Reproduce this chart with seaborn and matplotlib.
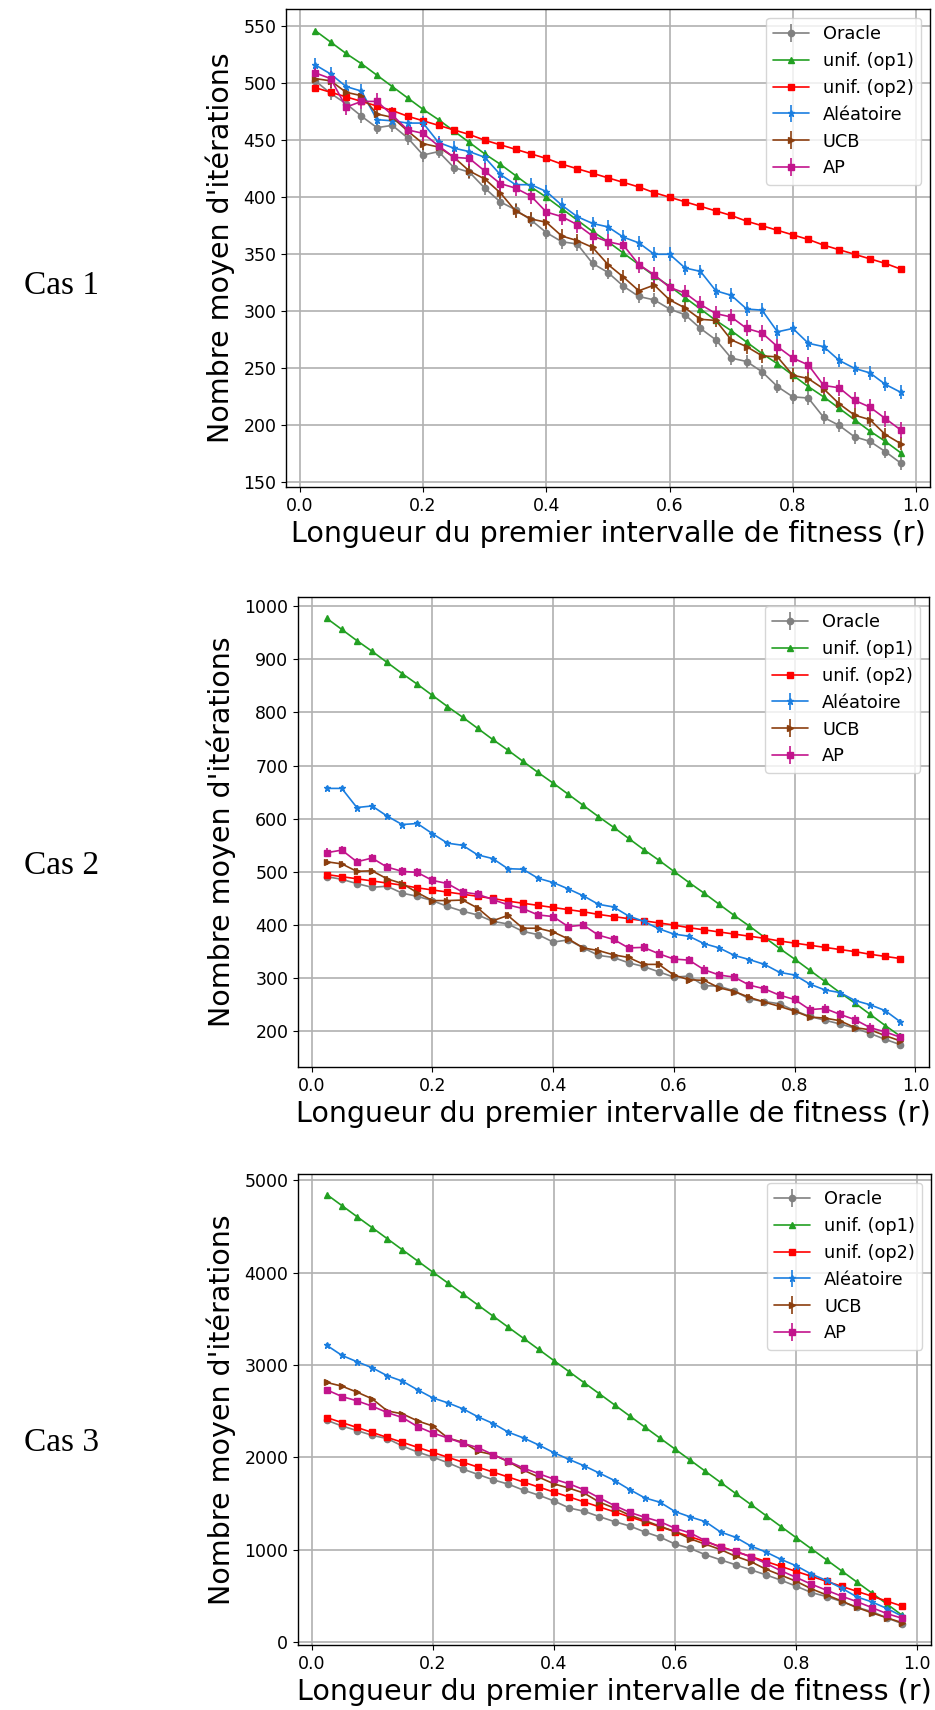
import seaborn as sns
import matplotlib.pyplot as plt
from matplotlib.ticker import MultipleLocator

# x axis: length of the first fitness interval
r = [0.025, 0.05, 0.075, 0.1, 0.125, 0.15, 0.175, 0.2, 0.225, 0.25,
     0.275, 0.3, 0.325, 0.35, 0.375, 0.4, 0.425, 0.45, 0.475, 0.5,
     0.525, 0.55, 0.575, 0.6, 0.625, 0.65, 0.675, 0.7, 0.725, 0.75,
     0.775, 0.8, 0.825, 0.85, 0.875, 0.9, 0.925, 0.95, 0.975]

labels = ["Oracle", "unif. (op1)", "unif. (op2)", "Aléatoire", "UCB", "AP"]
cases = ["Cas 1", "Cas 2", "Cas 3"]

# --- Cas 1 ---
cas1_oracle = [502, 491, 482, 471, 461, 463, 452, 437, 440, 426,
               422, 408, 396, 389, 380, 369, 361, 359, 342, 334,
               322, 313, 310, 302, 297, 285, 275, 259, 256, 247,
               234, 225, 224, 207, 200, 190, 186, 177, 167]
cas1_op1 = [546, 536, 526, 517, 507, 497, 487, 477, 468, 458,
            448, 438, 429, 419, 409, 400, 390, 380, 370, 361,
            351, 341, 331, 322, 312, 302, 292, 283, 273, 263,
            254, 244, 234, 225, 215, 205, 195, 186, 176]
cas1_op2 = [496, 492, 488, 484, 480, 476, 471, 467, 463, 459,
            455, 450, 446, 442, 438, 434, 429, 425, 421, 417,
            413, 409, 404, 400, 396, 392, 388, 384, 379, 375,
            371, 367, 363, 358, 354, 350, 346, 342, 337]
cas1_alea = [516, 508, 497, 493, 468, 467, 465, 465, 448, 443,
             440, 435, 420, 411, 411, 405, 393, 383, 377, 374,
             365, 360, 350, 350, 338, 335, 318, 314, 302, 301,
             282, 285, 272, 269, 257, 250, 246, 236, 229]
cas1_ucb = [504, 502, 492, 489, 473, 470, 458, 447, 444, 435,
            423, 416, 404, 388, 381, 378, 366, 362, 356, 341,
            330, 318, 323, 310, 303, 293, 292, 275, 269, 261,
            260, 244, 241, 232, 219, 209, 205, 192, 184]
cas1_ap = [509, 504, 479, 484, 484, 472, 459, 456, 445, 435,
           434, 423, 412, 408, 401, 387, 383, 376, 366, 361,
           358, 341, 332, 321, 316, 306, 298, 295, 285, 281,
           269, 259, 253, 235, 233, 222, 216, 206, 196]
cas1_err = [6, 0, 0, 6, 6, 7]

# --- Cas 2 ---
cas2_oracle = [491, 486, 478, 471, 473, 460, 454, 446, 435, 426,
               419, 407, 402, 388, 382, 368, 372, 357, 343, 339,
               329, 322, 312, 302, 304, 286, 285, 276, 261, 256,
               252, 239, 228, 221, 214, 206, 196, 185, 175]
cas2_op1 = [977, 956, 935, 915, 894, 873, 853, 832, 811, 791,
            770, 749, 729, 708, 687, 667, 646, 625, 604, 584,
            563, 542, 522, 501, 480, 460, 439, 418, 398, 377,
            356, 336, 315, 294, 273, 253, 232, 211, 191]
cas2_op2 = [495, 491, 487, 483, 479, 475, 470, 466, 462, 458,
            454, 450, 445, 441, 437, 433, 429, 425, 420, 416,
            412, 408, 404, 400, 395, 391, 387, 383, 379, 375,
            370, 366, 362, 358, 354, 350, 345, 341, 337]
cas2_alea = [657, 657, 621, 624, 605, 589, 591, 572, 554, 550,
             532, 525, 506, 505, 488, 480, 468, 455, 439, 434,
             417, 407, 393, 383, 379, 365, 357, 343, 335, 326,
             311, 306, 289, 278, 273, 258, 250, 239, 218]
cas2_ucb = [519, 515, 501, 502, 487, 478, 461, 446, 446, 447,
            432, 408, 418, 394, 394, 387, 374, 357, 352, 344,
            339, 326, 326, 306, 297, 296, 282, 275, 264, 255,
            247, 238, 227, 225, 220, 207, 203, 192, 182]
cas2_ap = [536, 541, 519, 526, 509, 501, 499, 484, 478, 462,
           458, 448, 438, 431, 419, 416, 397, 400, 381, 373,
           357, 358, 346, 336, 334, 316, 306, 302, 287, 280,
           268, 260, 241, 243, 232, 222, 207, 199, 189]
cas2_err = [4, 0, 0, 5, 6, 8]

# --- Cas 3 ---
cas3_oracle = [2401, 2339, 2289, 2238, 2202, 2122, 2057, 2003, 1941, 1872,
               1814, 1756, 1709, 1644, 1590, 1528, 1452, 1416, 1358, 1304,
               1257, 1192, 1137, 1061, 1014, 946, 891, 837, 783, 728,
               670, 605, 537, 493, 439, 377, 330, 261, 200]
cas3_op1 = [4844, 4724, 4604, 4485, 4365, 4245, 4125, 4005, 3886, 3766,
            3646, 3526, 3406, 3287, 3167, 3047, 2927, 2807, 2688, 2568,
            2448, 2328, 2208, 2089, 1969, 1849, 1729, 1609, 1490, 1370,
            1250, 1130, 1010, 891, 771, 651, 531, 411, 290]
cas3_op2 = [2430, 2376, 2323, 2269, 2215, 2162, 2108, 2054, 2000, 1947,
            1893, 1839, 1786, 1732, 1678, 1624, 1571, 1517, 1463, 1410,
            1356, 1302, 1249, 1195, 1141, 1087, 1034, 980, 926, 873,
            819, 765, 712, 658, 604, 550, 497, 443, 389]
cas3_alea = [3212, 3103, 3034, 2969, 2882, 2824, 2730, 2643, 2589, 2524,
             2437, 2365, 2271, 2209, 2133, 2050, 1977, 1908, 1829, 1749,
             1651, 1561, 1514, 1413, 1355, 1304, 1192, 1134, 1040, 975,
             895, 826, 736, 667, 584, 490, 435, 363, 280]
cas3_ucb = [2810, 2770, 2705, 2633, 2502, 2470, 2394, 2339, 2209, 2162,
            2064, 2028, 1952, 1861, 1785, 1713, 1666, 1612, 1515, 1450,
            1374, 1316, 1254, 1196, 1118, 1060, 1002, 929, 871, 789,
            724, 658, 577, 511, 445, 375, 317, 263, 210]
cas3_ap = [2730, 2658, 2611, 2553, 2484, 2430, 2332, 2263, 2209, 2151,
           2104, 2028, 1956, 1883, 1822, 1764, 1713, 1648, 1561, 1478,
           1405, 1351, 1304, 1232, 1181, 1098, 1025, 982, 924, 852,
           772, 700, 627, 562, 497, 439, 373, 308, 258]
cas3_err = [20, 0, 0, 25, 25, 25]

# Style
sns.set_style("ticks", {"axes.grid": True, "grid.color": "#b0b0b0",
                        "axes.edgecolor": "black", "xtick.color": "black",
                        "ytick.color": "black", "text.color": "black",
                        "axes.labelcolor": "black"})
plt.rcParams["font.family"] = ["DejaVu Sans"]
plt.rcParams["grid.linewidth"] = 1.2

colors = ["#808080", "#22a022", "#ff0000", "#1a7ee0", "#8b3e0e", "#c2148c"]
markers = ["o", "^", "s", "*", ">", "s"]
msizes = [4.5, 5, 5, 5, 4.5, 5]

panels = [
    ([cas1_oracle, cas1_op1, cas1_op2, cas1_alea, cas1_ucb, cas1_ap], cas1_err,
     (146, 565), 50, [286, 9, 930, 487], 286),
    ([cas2_oracle, cas2_op1, cas2_op2, cas2_alea, cas2_ucb, cas2_ap], cas2_err,
     (133, 1017), 100, [298, 597, 929, 1067], 866),
    ([cas3_oracle, cas3_op1, cas3_op2, cas3_alea, cas3_ucb, cas3_ap], cas3_err,
     (-31, 5066), 1000, [298, 1174, 931, 1645], 1443),
]

W, H = 935, 1710
fig = plt.figure(figsize=(W / 100, H / 100), dpi=100)

for (series, errs, ylim, ystep, box, ytext), case in zip(panels, cases):
    x0, y0, x1, y1 = box
    ax = fig.add_axes([x0 / W, 1 - y1 / H, (x1 - x0) / W, (y1 - y0) / H])
    handles = []
    for vals, err, lab, c, m, ms in zip(series, errs, labels, colors, markers, msizes):
        h = ax.errorbar(r, vals, yerr=err if err else None, color=c, marker=m,
                        markersize=ms, linewidth=1.2, elinewidth=1.2, label=lab)
        handles.append(h)
    ax.set_xlim(-0.0225, 1.0225)
    ax.set_ylim(*ylim)
    ax.xaxis.set_major_locator(MultipleLocator(0.2))
    ax.yaxis.set_major_locator(MultipleLocator(ystep))
    ax.tick_params(labelsize=12.5)
    ax.set_xlabel("Longueur du premier intervalle de fitness (r)", fontsize=20.5, labelpad=4)
    ax.set_ylabel("Nombre moyen d'itérations", fontsize=20.5, labelpad=6)
    ax.legend(handles, labels, loc="upper right", fontsize=12.8, framealpha=0.8)
    for sp in ax.spines.values():
        sp.set_linewidth(1.0)
    fig.text(24 / W, 1 - ytext / H, case, fontsize=24, va="center", ha="left",
             family=["Liberation Serif", "DejaVu Serif"])

plt.savefig("out.png", dpi=100)
plt.close()
